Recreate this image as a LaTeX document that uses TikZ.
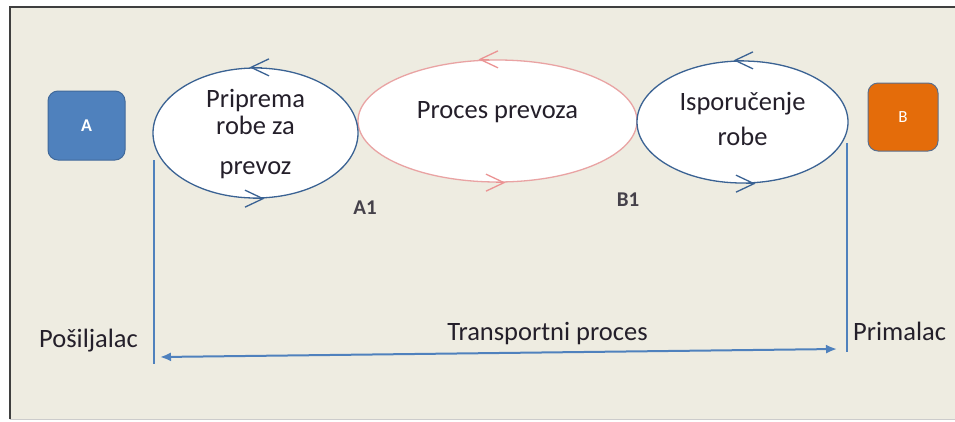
\documentclass[tikz,border=0pt]{standalone}
\usepackage{fontspec}
\setmainfont{Carlito}
\usetikzlibrary{shapes.geometric,arrows.meta}
\definecolor{bg}{HTML}{EEECE1}
\definecolor{framec}{HTML}{3F3F3F}
\definecolor{eblue}{HTML}{3A6293}
\definecolor{epink}{HTML}{E9A3A3}
\definecolor{lblue}{HTML}{4F81BD}
\definecolor{txt}{HTML}{241F2A}
\definecolor{boxa}{HTML}{4F81BD}
\definecolor{boxaedge}{HTML}{41699A}
\definecolor{boxb}{HTML}{E46C0A}
\definecolor{boxbedge}{HTML}{5B6F8C}
\tikzset{
  ell/.style={ellipse, fill=white, line width=1.3pt, inner sep=0pt},
  barb/.style={line width=1.3pt, -{Straight Barb[length=18pt,width=17pt]}},
  bigtxt/.style={font=\fontsize{26.5}{27}\selectfont, text=txt, inner sep=0pt, align=center},
  lbl/.style={font=\bfseries\fontsize{21}{21}\selectfont, text=txt!85, inner sep=0pt},
  sq/.style={rounded corners=10pt, line width=1pt, inner sep=0pt, text=white, font=\bfseries\fontsize{18}{18}\selectfont},
  vline/.style={draw=lblue, line width=1.5pt},
  harrow/.style={draw=lblue, line width=2pt, {Latex[length=11pt,width=9pt]}-{Latex[length=11pt,width=9pt]}}
}
\begin{document}
\begin{tikzpicture}[x=1pt,y=-1pt]
\useasboundingbox (0,0) rectangle (955,421);
\fill[white] (0,0) rectangle (955,421);
\fill[bg] (10,7) rectangle (960,419);
\draw[framec, line width=2pt] (10,419) -- (10,7) -- (960,7);
\draw[black!20, line width=1pt] (10,419.5) -- (960,419.5);

% boxes
\node[sq, fill=boxa, draw=boxaedge, minimum width=77pt, minimum height=69pt] (A) at (86.5,125.5) {A};
\node[sq, fill=boxb, draw=boxbedge, minimum width=70pt, minimum height=68pt, font=\fontsize{17}{17}\selectfont] (B) at (903,117) {B};

% ellipses
\node[ell, draw=epink, minimum width=279pt, minimum height=122pt] (e2) at (497.5,121) {};
\node[ell, draw=eblue, minimum width=205pt, minimum height=130pt] (e1) at (255.5,133) {};
\node[ell, draw=eblue, minimum width=211pt, minimum height=122pt] (e3) at (742.5,122) {};

% circulation arrows
\draw[barb, eblue] ([xshift=6pt]e1.north) -- ([xshift=-6pt]e1.north);
\draw[barb, eblue] ([xshift=-3pt]e1.south) -- ([xshift=9pt]e1.south);
\draw[barb, epink!90!red] ([xshift=-9pt]e2.north) -- ([xshift=-19pt]e2.north);
\draw[barb, epink!90!red] ([xshift=-2pt]e2.south) -- ([xshift=8pt]e2.south);
\draw[barb, eblue] ([xshift=1pt]e3.north) -- ([xshift=-9pt]e3.north);
\draw[barb, eblue] ([xshift=3pt]e3.south) -- ([xshift=13pt]e3.south);

% ellipse texts
\node[bigtxt] (t1) at ([yshift=-1pt]e1.center) {Priprema\\robe za\\[13pt]prevoz};
\node[bigtxt] (t2) at ([yshift=8.5pt]e2.center) {Proces prevoza};
\node[bigtxt, font=\fontsize{26.5}{35}\selectfont] (t3) at ([yshift=3.5pt]e3.center) {Isporučenje\\robe};

% labels
\node[lbl] (a1) at (365,208) {A1};
\node[lbl] (b1) at (628,200) {B1};

% vertical lines
\coordinate (lt) at (154,160);
\coordinate (lb) at (154,364);
\coordinate (rt) at (847,143);
\coordinate (rb) at (847,352);
\draw[vline] (lt) -- (lb);
\draw[vline] (rt) -- (rb);

% transport arrow
\coordinate (la) at (160,357);
\coordinate (ra) at (837,349);
\draw[harrow] (la) -- (ra);

\node[bigtxt, anchor=base west] (pos) at (39,347) {Pošiljalac};
\node[bigtxt, anchor=base] (tp) at (547.5,340) {Transportni proces};
\node[bigtxt, anchor=base west] (prim) at (853,340) {Primalac};
\end{tikzpicture}
\end{document}
